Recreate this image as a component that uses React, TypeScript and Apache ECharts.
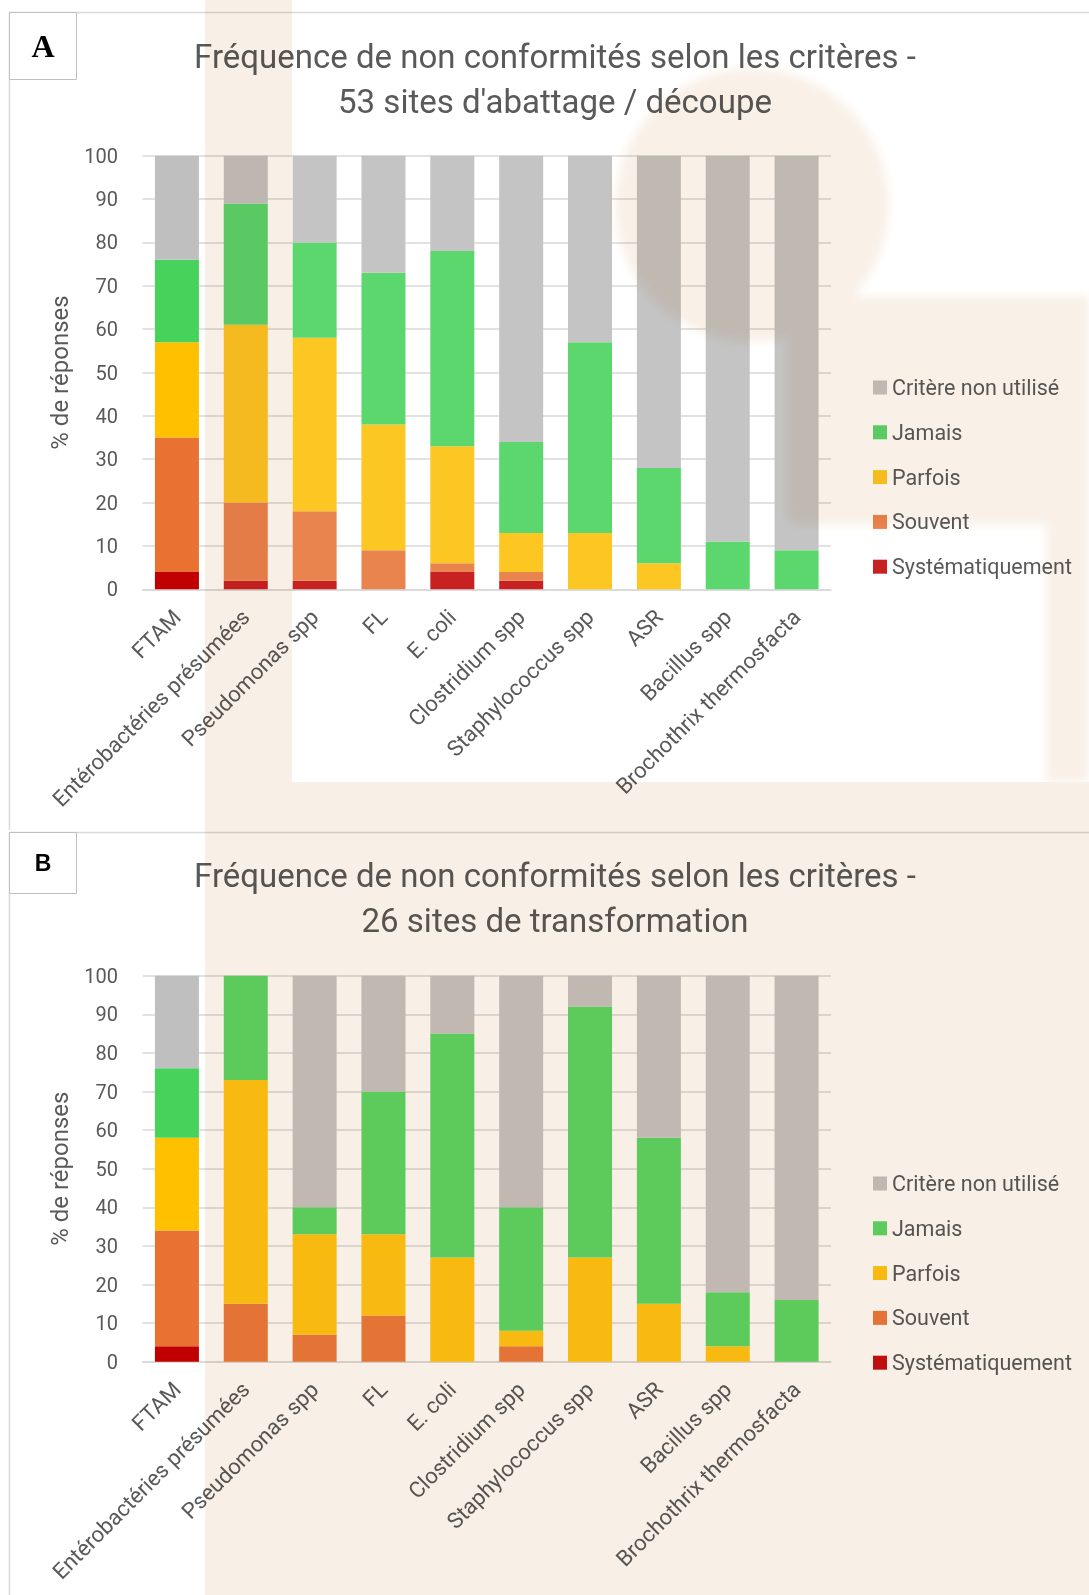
import React, { useEffect, useRef } from "react";
import * as echarts from "echarts";

// ---------- DATA ----------
const categories = [
  "FTAM",
  "Entérobactéries présumées",
  "Pseudomonas spp",
  "FL",
  "E. coli",
  "Clostridium spp",
  "Staphylococcus spp",
  "ASR",
  "Bacillus spp",
  "Brochothrix thermosfacta",
];

const seriesNames = ["Systématiquement", "Souvent", "Parfois", "Jamais", "Critère non utilisé"];
const legendOrder = ["Critère non utilisé", "Jamais", "Parfois", "Souvent", "Systématiquement"];

const yTicks = [0, 10, 20, 30, 40, 50, 60, 70, 80, 90, 100];

// Panel A : 53 sites d'abattage / découpe
const aSystematiquement = [4, 2, 2, 0, 4, 2, 0, 0, 0, 0];
const aSouvent = [31, 18, 16, 9, 2, 2, 0, 0, 0, 0];
const aParfois = [22, 41, 40, 29, 27, 9, 13, 6, 0, 0];
const aJamais = [19, 28, 22, 35, 45, 21, 44, 22, 11, 9];
const aNonUtilise = [24, 11, 20, 27, 22, 66, 43, 72, 89, 91];

// Panel B : 26 sites de transformation
const bSystematiquement = [4, 0, 0, 0, 0, 0, 0, 0, 0, 0];
const bSouvent = [30, 15, 7, 12, 0, 4, 0, 0, 0, 0];
const bParfois = [24, 58, 26, 21, 27, 4, 27, 15, 4, 0];
const bJamais = [18, 27, 7, 37, 58, 32, 65, 43, 14, 16];
const bNonUtilise = [24, 0, 60, 30, 15, 60, 8, 42, 82, 84];

const titleA = "Fréquence de non conformités selon les critères -\n53 sites d'abattage / découpe";
const titleB = "Fréquence de non conformités selon les critères -\n26 sites de transformation";
const yAxisName = "% de réponses";

// ---------- STYLES ----------
const colorsA: Record<string, string> = {
  "Systématiquement": "#C82121",
  "Souvent": "#EA844E",
  "Parfois": "#FCC722",
  "Jamais": "#5CD76E",
  "Critère non utilisé": "#C4C4C4",
};
const colorsB: Record<string, string> = {
  "Systématiquement": "#C51010",
  "Souvent": "#EB7C3C",
  "Parfois": "#FFC611",
  "Jamais": "#5ED965",
  "Critère non utilisé": "#C6C5C4",
};
const colorsFirst: Record<string, string> = {
  "Systématiquement": "#C00000",
  "Souvent": "#E97132",
  "Parfois": "#FFC000",
  "Jamais": "#47D35B",
  "Critère non utilisé": "#BFBFBF",
};

const FONT = "Roboto, 'Liberation Sans', sans-serif";
const TEXT = "#595959";
const GRIDC = "#D9D9D9";

type PanelCfg = {
  height: number;
  title: string;
  titleTop: number;
  letter: string;
  letterFont: string;
  letterFontSize: number;
  boxTop: number;
  boxH: number;
  gridTop: number;
  gridBottom: number;
  legendTop: number;
  values: number[][];
  colors: Record<string, string>;
};

function buildOption(cfg: PanelCfg) {
  const series = seriesNames.map((name, si) => ({
    name,
    type: "bar",
    stack: "total",
    barWidth: 44,
    itemStyle: { color: cfg.colors[name] },
    emphasis: { disabled: true },
    data: cfg.values[si].map((v, i) =>
      i === 0 ? { value: v, itemStyle: { color: colorsFirst[name] } } : v
    ),
  }));
  return {
    animation: false,
    backgroundColor: "transparent",
    title: {
      text: cfg.title,
      left: 550,
      top: cfg.titleTop,
      textAlign: "center",
      textStyle: {
        fontFamily: FONT,
        fontSize: 33,
        fontWeight: "normal",
        color: TEXT,
        lineHeight: 45,
      },
    },
    legend: {
      orient: "vertical",
      left: 873,
      top: cfg.legendTop,
      padding: 0,
      itemWidth: 14,
      itemHeight: 14,
      itemGap: 22.8,
      icon: "rect",
      selectedMode: false,
      data: legendOrder,
      textStyle: { fontFamily: FONT, fontSize: 21.5, color: TEXT },
    },
    grid: {
      left: 142.5,
      right: 258,
      top: cfg.gridTop,
      bottom: cfg.gridBottom,
      containLabel: false,
    },
    xAxis: {
      type: "category",
      data: categories,
      axisTick: { show: false },
      axisLine: { lineStyle: { color: GRIDC, width: 1.5 } },
      axisLabel: {
        interval: 0,
        rotate: 45,
        margin: 24,
        fontFamily: FONT,
        fontSize: 22,
        color: TEXT,
      },
    },
    yAxis: {
      type: "value",
      min: yTicks[0],
      max: yTicks[yTicks.length - 1],
      interval: yTicks[1] - yTicks[0],
      name: yAxisName,
      nameLocation: "middle",
      nameRotate: 90,
      nameGap: 71,
      nameTextStyle: { fontFamily: FONT, fontSize: 24, color: TEXT },
      axisLine: { show: false },
      axisTick: { show: false },
      axisLabel: { margin: 24.5, fontFamily: FONT, fontSize: 20, color: TEXT },
      splitLine: { lineStyle: { color: GRIDC, width: 1.5 } },
    },
    graphic: [
      {
        type: "rect",
        silent: true,
        z: -10,
        shape: { x: 9.5, y: cfg.boxTop, width: 1200, height: 2000 },
        style: { fill: "none", stroke: GRIDC, lineWidth: 1.5 },
      },
      {
        type: "rect",
        silent: true,
        shape: { x: 9.5, y: cfg.boxTop, width: 67, height: cfg.boxH },
        style: { fill: "#FFFFFF", stroke: "#BFBFBF", lineWidth: 1 },
      },
      {
        type: "text",
        silent: true,
        x: 43,
        y: cfg.boxTop + cfg.boxH / 2,
        style: {
          text: cfg.letter,
          fontFamily: cfg.letterFont,
          fontWeight: "bold",
          fontSize: cfg.letterFontSize,
          fill: "#000000",
          align: "center",
          verticalAlign: "middle",
        },
      },
    ],
    series,
  };
}

function Panel({ cfg, top }: { cfg: PanelCfg; top: number }) {
  const ref = useRef<HTMLDivElement>(null);
  useEffect(() => {
    if (!ref.current) return;
    const chart = echarts.init(ref.current, undefined, { renderer: "svg" });
    chart.setOption(buildOption(cfg) as any);
    return () => chart.dispose();
  }, []);
  return (
    <div
      ref={ref}
      style={{ position: "absolute", left: 0, top, width: 1089, height: cfg.height }}
    />
  );
}

const panelA: PanelCfg = {
  height: 830,
  title: titleA,
  titleTop: 29,
  letter: "A",
  letterFont: "'Liberation Serif', 'DejaVu Serif', serif",
  letterFontSize: 32,
  boxTop: 12.5,
  boxH: 67,
  gridTop: 155.7,
  gridBottom: 830 - 589.3,
  legendTop: 376.5,
  values: [aSystematiquement, aSouvent, aParfois, aJamais, aNonUtilise],
  colors: colorsA,
};

const panelB: PanelCfg = {
  height: 765,
  title: titleB,
  titleTop: 18,
  letter: "B",
  letterFont: "'Liberation Sans', Arial, sans-serif",
  letterFontSize: 23,
  boxTop: 2.5,
  boxH: 61,
  gridTop: 145.7,
  gridBottom: 765 - 531.7,
  legendTop: 342.5,
  values: [bSystematiquement, bSouvent, bParfois, bJamais, bNonUtilise],
  colors: colorsB,
};

export default function App() {
  return (
    <div
      style={{
        position: "absolute",
        left: 0,
        top: 0,
        width: 1089,
        height: 1595,
        background: "#FFFFFF",
        overflow: "hidden",
      }}
    >
      <Panel cfg={panelA} top={0} />
      <Panel cfg={panelB} top={830} />
      <svg
        width={1089}
        height={1595}
        style={{
          position: "absolute",
          left: 0,
          top: 0,
          mixBlendMode: "multiply",
          pointerEvents: "none",
        }}
      >
        <defs>
          <filter id="soft" x="-20%" y="-20%" width="140%" height="140%">
            <feGaussianBlur stdDeviation="4" />
          </filter>
        </defs>
        <g fill="#F8EFE6">
          <rect x={205} y={0} width={87} height={830} />
          <rect x={205} y={782} width={884} height={813} />
        </g>
        <g fill="#F9F1E8" filter="url(#soft)">
          <circle cx={752} cy={205} r={137} />
          <path d="M786 250 H857 V525 H804 Q786 525 786 507 Z" />
          <path d="M857 296 H1051 Q1069 296 1069 314 V525 H857 Z" />
          <rect x={1046} y={296} width={43} height={486} />
        </g>
      </svg>
    </div>
  );
}
